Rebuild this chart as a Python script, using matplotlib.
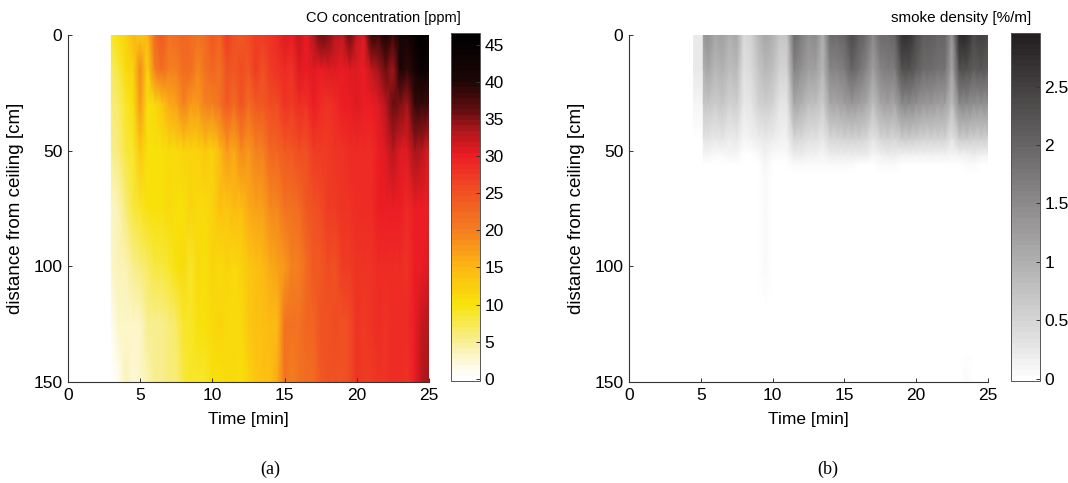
import matplotlib
matplotlib.use('Agg')
import matplotlib.pyplot as plt
from matplotlib.colors import LinearSegmentedColormap

co_time = [3, 3.5, 4, 4.5, 5, 5.5, 6, 6.5, 7, 7.5, 8, 8.5, 9, 9.5, 10, 10.5, 11, 11.5, 12, 12.5, 13, 13.5,
           14, 14.5, 15, 15.5, 16, 16.5, 17, 17.5, 18, 18.5, 19, 19.5, 20, 20.5, 21, 21.5, 22, 22.5, 23,
           23.5, 24, 24.5, 25]
co_depth = [0, 15, 30, 50, 75, 100, 125, 150]
co_d0 = [9, 10, 12, 15, 13, 15, 22, 24, 21, 22, 23, 22, 21, 22, 24, 23, 27, 25, 24, 26, 27, 27, 28, 29, 31, 30, 32, 30, 33, 36, 35, 33, 32, 36, 32, 31, 39, 38, 42, 38, 41, 42, 44, 46, 44]
co_d15 = [7, 8, 11, 12, 19, 12, 20, 22, 20, 20, 22, 22, 19, 21, 23, 21, 25, 24, 26, 24, 27, 25, 27, 28, 29, 28, 31, 30, 31, 30, 31, 31, 30, 31, 31, 30, 32, 34, 36, 34, 41, 39, 42, 44, 43]
co_d30 = [6, 7, 9, 10, 18, 10, 11, 13, 16, 17, 20, 18, 18, 20, 20, 21, 24, 22, 25, 22, 24, 24, 26, 26, 28, 27, 29, 28, 30, 29, 28, 29, 30, 30, 31, 30, 30, 31, 33, 36, 35, 34, 39, 39, 38]
co_d50 = [5, 6, 8, 9, 13, 10, 10, 10, 11, 11, 12, 12, 12, 13, 12, 15, 18, 16, 19, 18, 20, 20, 23, 23, 24, 24, 26, 25, 27, 27, 27, 28, 28, 29, 29, 29, 29, 30, 31, 33, 31, 31, 34, 33, 31]
co_d75 = [3, 4, 6, 8, 9, 10, 10, 10, 11, 10, 10, 12, 11, 11, 12, 14, 13, 15, 14, 16, 17, 17, 19, 19, 21, 21, 22, 24, 25, 26, 27, 27, 28, 28, 29, 29, 29, 30, 30, 30, 30, 29, 30, 30, 30]
co_d100 = [3, 4, 4, 5, 6, 7, 8, 8, 9, 10, 11, 9, 11, 10, 12, 11, 12, 11, 12, 13, 14, 15, 16, 17, 18, 20, 20, 22, 24, 24, 26, 25, 27, 27, 28, 28, 28, 29, 29, 29, 29, 28, 30, 30, 31]
co_d125 = [1, 3, 3, 3, 3, 5, 5, 5, 6, 7, 9, 9, 10, 10, 11, 12, 11, 11, 11, 13, 14, 14, 15, 15, 21, 21, 21, 23, 23, 25, 25, 26, 25, 26, 28, 27, 28, 29, 28, 29, 29, 29, 30, 32, 33]
co_d150 = [0, 1, 4, 2, 3, 4, 5, 5, 6, 6, 8, 9, 9, 9, 10, 10, 11, 11, 10, 12, 13, 14, 14, 16, 21, 20, 21, 22, 22, 24, 25, 25, 25, 26, 28, 27, 27, 28, 28, 29, 29, 28, 30, 33, 34]
co_values = [co_d0, co_d15, co_d30, co_d50, co_d75, co_d100, co_d125, co_d150]

smoke_time = [4.5, 5.1, 5.2, 5.5, 6, 6.5, 7, 7.5, 8, 8.5, 9, 9.5, 10, 10.5, 11, 11.5, 12, 12.5, 13, 13.5, 14,
              14.5, 15, 15.5, 16, 16.5, 17, 17.5, 18, 18.5, 19, 19.5, 20, 20.5, 21, 21.5, 22, 22.5, 23, 23.5,
              24, 24.5, 25]
smoke_depth = [0, 15, 30, 45, 52, 56, 60, 75, 100, 118, 135, 150]
smoke_d0 = [.25, .25, 1.3, 1.4, 1.1, 1.2, 1.0, 1.1, .4, .5, .9, 1.1, 1.0, .7, .7, 1.9, 1.7, 1.4, 1.5, 1.0, 1.9, 1.9, 2.0, 2.4, 2.1, 1.9, 1.5, 1.9, 1.9, 2.0, 2.7, 2.7, 2.4, 2.1, 2.1, 2.0, 2.0, 1.3, 2.8, 2.8, 2.4, 2.5, 2.4]
smoke_d15 = [.25, .25, 1.0, 1.1, .9, 1.0, .8, .9, .35, .4, .7, .9, .8, .5, .5, 1.6, 1.4, 1.2, 1.2, .9, 1.6, 1.6, 1.7, 2.0, 1.8, 1.6, 1.2, 1.6, 1.7, 1.7, 2.3, 2.3, 2.1, 1.9, 1.9, 1.8, 1.8, 1.1, 2.3, 2.3, 2.1, 2.2, 2.1]
smoke_d30 = [.08, .08, .7, .7, .6, .7, .5, .6, .25, .3, .5, .6, .5, .3, .3, 1.1, 1.0, .8, .8, .6, 1.1, 1.1, 1.2, 1.3, 1.2, 1.1, .8, 1.1, 1.2, 1.1, 1.5, 1.5, 1.4, 1.3, 1.3, 1.2, 1.2, .8, 1.5, 1.5, 1.4, 1.4, 1.4]
smoke_d45 = [0, 0, .3, .3, .25, .3, .2, .25, .1, .15, .2, .25, .2, .15, .15, .45, .4, .35, .35, .25, .45, .45, .5, .5, .5, .45, .3, .45, .5, .45, .6, .6, .55, .5, .5, .5, .5, .3, .6, .6, .55, .55, .55]
smoke_d52 = [0, 0, .1, .08, .06, .06, .1, .08, .02, .02, .05, .12, .05, .03, .03, .2, .2, .15, .15, .1, .2, .2, .2, .2, .2, .18, .1, .15, .2, .2, .15, .15, .15, .15, .15, .15, .15, .1, .15, .15, .2, .15, .15]
smoke_d56 = [0, 0, 0, 0, 0, 0, 0, 0, 0, 0, .02, .08, .02, 0, 0, .03, .03, .05, .03, .03, .03, .03, .03, .03, .02, .02, .02, .03, .06, .03, 0, 0, 0, 0, 0, 0, 0, 0, 0, .03, .04, 0, 0]
smoke_d60 = [0, 0, 0, 0, 0, 0, 0, 0, 0, 0, .02, .07, .02, 0, 0, 0, 0, .02, 0, 0, 0, 0, 0, 0, 0, 0, 0, 0, 0, 0, 0, 0, 0, 0, 0, 0, 0, 0, 0, .02, 0, 0, 0]
smoke_d75 = [0, 0, 0, 0, 0, 0, 0, 0, 0, 0, .02, .06, .02, 0, 0, 0, 0, .01, 0, 0, 0, 0, 0, 0, 0, 0, 0, 0, 0, 0, 0, 0, 0, 0, 0, 0, 0, 0, 0, .02, 0, 0, 0]
smoke_d100 = [0, 0, 0, 0, 0, 0, 0, 0, 0, 0, 0, .04, 0, 0, 0, 0, 0, 0, 0, 0, 0, 0, 0, 0, 0, 0, 0, 0, 0, 0, 0, 0, 0, 0, 0, 0, 0, 0, 0, 0, 0, 0, 0]
smoke_d118 = [0, 0, 0, 0, 0, 0, 0, 0, 0, 0, 0, .01, 0, 0, 0, 0, 0, 0, 0, 0, 0, 0, 0, 0, 0, 0, 0, 0, 0, 0, 0, 0, 0, 0, 0, 0, 0, 0, 0, 0, 0, 0, 0]
smoke_d135 = [0, 0, 0, 0, 0, 0, 0, 0, 0, 0, 0, 0, 0, 0, 0, 0, 0, 0, 0, 0, 0, 0, 0, 0, 0, 0, 0, 0, 0, .01, 0, 0, 0, 0, 0, 0, 0, 0, 0, .01, 0, 0, 0]
smoke_d150 = [0, 0, 0, 0, 0, 0, 0, 0, 0, 0, 0, 0, 0, 0, 0, 0, 0, 0, 0, 0, .0, 0, 0, 0, 0, 0, 0, 0, 0, 0, .02, 0, 0, .02, .02, 0, .02, 0, 0, .03, 0, .02, .02]
smoke_values = [smoke_d0, smoke_d15, smoke_d30, smoke_d45, smoke_d52, smoke_d56, smoke_d60, smoke_d75, smoke_d100, smoke_d118, smoke_d135, smoke_d150]

x_ticks = [0, 5, 10, 15, 20, 25]
y_ticks = [0, 50, 100, 150]
co_ticks = [0, 5, 10, 15, 20, 25, 30, 35, 40, 45]
smoke_ticks = [0, 0.5, 1, 1.5, 2, 2.5]
smoke_labels = ['0', '0.5', '1', '1.5', '2', '2.5']

W, H = 1068, 483
plt.rcParams['font.family'] = ['Liberation Sans', 'DejaVu Sans']

co_cmap = LinearSegmentedColormap.from_list('co', [
    (0.0, '#ffffff'), (0.05, '#fdf8d8'), (0.11, '#f8ee90'), (0.215, '#f8e30a'), (0.32, '#fdb913'),
    (0.44, '#f37a20'), (0.55, '#f04e23'), (0.65, '#ed1c24'), (0.72, '#b0181c'), (0.79, '#5a0c0e'),
    (0.87, '#1c0606'), (1.0, '#000000')], N=64)
smoke_cmap = LinearSegmentedColormap.from_list('smoke', [
    (0.0, '#ffffff'), (0.035, '#f5f5f5'), (0.09, '#e6e6e6'), (1.0, '#231f20')], N=64)


def box(x0, y0, x1, y1):
    return [x0 / W, 1 - y1 / H, (x1 - x0) / W, (y1 - y0) / H]


def heat_panel(fig, ax_box, cax_box, time, depth, values, cmap, vmin, vmax, cticks, clabels, title, title_x, caption, cap_x):
    ax = fig.add_axes(box(*ax_box))
    mesh = ax.pcolormesh(time, depth, values, cmap=cmap, vmin=vmin, vmax=vmax, shading='gouraud', rasterized=True)
    ax.set_xlim(0, 25)
    ax.set_ylim(150, 0)
    ax.set_xticks(x_ticks)
    ax.set_yticks(y_ticks)
    ax.tick_params(direction='in', length=3, width=0.7, labelsize=12.5, color='#333333', pad=4)
    ax.spines['top'].set_visible(False)
    ax.spines['right'].set_visible(False)
    ax.spines['left'].set_color('#333333')
    ax.spines['bottom'].set_color('#333333')
    ax.set_xlabel('Time [min]', fontsize=12.5, labelpad=7)
    ax.set_ylabel('distance from ceiling [cm]', fontsize=13.5, labelpad=7)

    cax = fig.add_axes(box(*cax_box))
    cb = fig.colorbar(mesh, cax=cax)
    cb.set_ticks(cticks)
    cb.set_ticklabels(clabels)
    cb.ax.tick_params(direction='in', length=3, width=0.7, labelsize=12.5, color='#333333', pad=3)
    cb.outline.set_edgecolor('#555555')
    cb.outline.set_linewidth(0.7)

    fig.text(title_x / W, 1 - 22 / H, title, fontsize=title_size(title), ha='right', va='baseline')
    fig.text(cap_x / W, 1 - 474 / H, caption, fontsize=13, ha='center', va='baseline', family='Liberation Serif')


def title_size(title):
    return 11 if title.startswith('smoke') else 10.5


fig = plt.figure(figsize=(W / 100, H / 100), dpi=100)
heat_panel(fig, (68, 35, 429, 382), (451, 33, 480, 381), co_time, co_depth, co_values, co_cmap, -0.3, 46.6,
           co_ticks, [str(t) for t in co_ticks], 'CO concentration [ppm]', 461, '(a)', 270)
heat_panel(fig, (629, 35, 988, 382), (1011, 33, 1040, 381), smoke_time, smoke_depth, smoke_values, smoke_cmap, -0.02, 2.96,
           smoke_ticks, smoke_labels, 'smoke density [%/m]', 1031, '(b)', 828)
fig.savefig('out.png', dpi=100)
